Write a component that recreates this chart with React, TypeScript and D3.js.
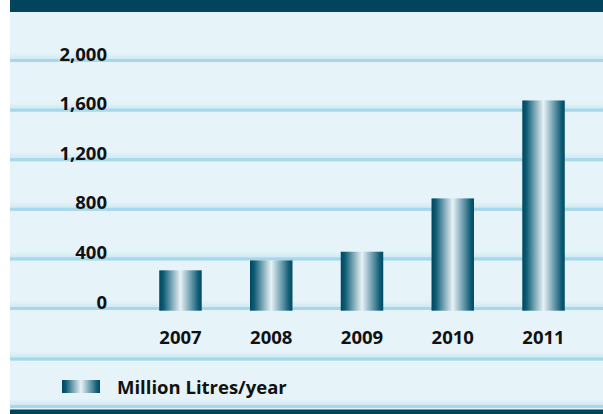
import React from "react";
import * as d3 from "d3";

const years = ["2007", "2008", "2009", "2010", "2011"];
const values = [320, 400, 470, 900, 1690];
const yTicks = [0, 400, 800, 1200, 1600, 2000];
const seriesName = "Million Litres/year";

const W = 603;
const H = 414;
const FONT = "'Open Sans', 'Noto Sans', sans-serif";
const FS = 18.5;

export default function App() {
  const x = d3.scaleBand<string>().domain(years).range([135.1, 588.9]).paddingInner(0.532).paddingOuter(0.266);
  const y = d3.scaleLinear().domain([0, 2000]).range([310, 62]);
  const fmt = d3.format(",");

  const band = (yy: number, key: string) => (
    <g key={key}>
      <rect x={10} y={yy - 9} width={W - 10} height={9} fill="url(#gridFade)" />
      <rect x={10} y={yy - 3} width={W - 10} height={3} fill="#a4d8ea" />
    </g>
  );

  return (
    <svg width={W} height={H} style={{ position: "absolute", left: 0, top: 0 }} fontFamily={FONT}>
      <defs>
        <linearGradient id="barGrad" x1="0" x2="1" y1="0" y2="0">
          <stop offset="0" stopColor="#00465f" />
          <stop offset="0.1" stopColor="#0d5c75" />
          <stop offset="0.3" stopColor="#7ea8b7" />
          <stop offset="0.5" stopColor="#e8f2f5" />
          <stop offset="0.62" stopColor="#aac7d2" />
          <stop offset="0.8" stopColor="#4f889c" />
          <stop offset="0.92" stopColor="#0f5c74" />
          <stop offset="1" stopColor="#004a63" />
        </linearGradient>
        <linearGradient id="gridFade" x1="0" x2="0" y1="0" y2="1">
          <stop offset="0" stopColor="#e6f3f8" stopOpacity="1" />
          <stop offset="1" stopColor="#c4e5f0" />
        </linearGradient>
      </defs>
      <rect x={0} y={0} width={W} height={H} fill="#ffffff" />
      <rect x={10} y={0} width={W - 10} height={H} fill="#e6f3f8" />
      <rect x={10} y={0} width={W - 10} height={12} fill="#02435d" />
      <rect x={10} y={409.5} width={W - 10} height={H - 409.5} fill="#02435d" />

      {yTicks.map((t) => band(y(t), "g" + t))}
      {band(360.5, "b1")}
      {band(408, "b2")}

      {yTicks.map((t) => (
        <text key={"yl" + t} x={107} y={y(t) - 1.5} textAnchor="end" fontSize={FS} fontWeight={700} fill="#111">
          {fmt(t)}
        </text>
      ))}

      {years.map((yr, i) => (
        <rect
          key={"bar" + yr}
          x={x(yr)}
          y={y(values[i])}
          width={x.bandwidth()}
          height={y(0) - y(values[i]) + 0.7}
          fill="url(#barGrad)"
        />
      ))}

      {years.map((yr) => (
        <text key={"xl" + yr} x={(x(yr) as number) + x.bandwidth() / 2} y={343.5} textAnchor="middle" fontSize={FS} fontWeight={700} fill="#111">
          {yr}
        </text>
      ))}

      <rect x={62} y={380} width={38} height={13} fill="url(#barGrad)" />
      <text x={117} y={393.5} fontSize={FS} fontWeight={700} fill="#111">
        {seriesName}
      </text>
    </svg>
  );
}
